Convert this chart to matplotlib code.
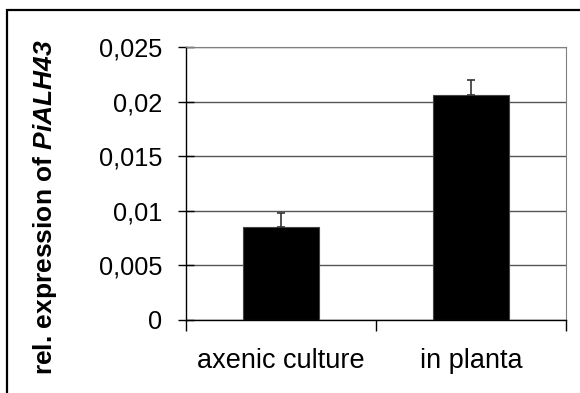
import matplotlib
matplotlib.use('Agg')
import matplotlib.pyplot as plt
from matplotlib.patches import Rectangle
from matplotlib.ticker import FixedLocator

plt.rcParams['font.family'] = ['Liberation Sans', 'DejaVu Sans']
plt.rcParams['mathtext.fontset'] = 'custom'
plt.rcParams['mathtext.bfit'] = 'Liberation Sans:bold:italic'

# relative expression values with standard error (upper only)
categories = ['axenic culture', 'in planta']
expression = [0.0085, 0.0206]
error = [0.0013, 0.0014]
yticks = [0, 0.005, 0.01, 0.015, 0.02, 0.025]
ytick_labels = ['0', '0,005', '0,01', '0,015', '0,02', '0,025']

fig = plt.figure(figsize=(5.8, 3.93), dpi=100)
ax = fig.add_axes([0.3207, 0.1858, 0.6552, 0.6946])

x = list(range(len(categories)))
ax.bar(x, expression, width=0.4, color='black', edgecolor='#444444', linewidth=0.8,
       yerr=[[0] * len(error), error], ecolor='#333333',
       error_kw=dict(elinewidth=1.2, capsize=3, capthick=1.2), zorder=3)

ax.set_xlim(-0.5, 1.5)
ax.set_ylim(0, 0.025)
ax.set_yticks(yticks)
ax.set_yticklabels(ytick_labels)
ax.yaxis.grid(True, color='#555555', linewidth=1.0, zorder=0)
ax.set_axisbelow(True)

ax.set_xticks(x)
ax.set_xticklabels(categories)
ax.xaxis.set_minor_locator(FixedLocator([-0.5, 0.5, 1.5]))
ax.tick_params(axis='x', which='major', length=0, pad=20, labelsize=19.5)
ax.tick_params(axis='x', which='minor', length=8, width=1, direction='out')
ax.tick_params(axis='y', length=12, width=1, direction='inout', pad=11, labelsize=18.3)

for side in ['top', 'right']:
    ax.spines[side].set_color('#808080')
ax.spines['left'].set_linewidth(1)
ax.spines['bottom'].set_linewidth(1)

fig.text(0.077, 0.472, r'rel. expression of $\mathbfit{PiALH43}$', rotation=90,
         fontsize=19, fontweight='bold', ha='center', va='center')

# open frame around the panel (left and top edges)
fig.patches.append(Rectangle((7 / 580, -0.5), 2, 0.5 + (1 - 10 / 393), fill=False,
                             edgecolor='black', linewidth=1.6,
                             transform=fig.transFigure, figure=fig))

fig.savefig('out.png', dpi=100)
